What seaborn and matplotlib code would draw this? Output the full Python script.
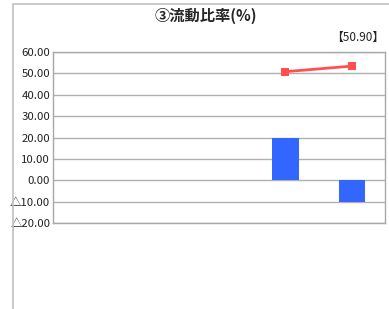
import matplotlib
matplotlib.use("Agg")
import matplotlib.pyplot as plt
import seaborn as sns
import numpy as np
import pandas as pd
from matplotlib.patches import Rectangle

sns.set_style("white")
plt.rcParams['font.family'] = ['Noto Sans CJK JP', 'DejaVu Sans']

categories = ["1", "2", "3", "4", "5"]
bar_values = [np.nan, np.nan, np.nan, 20.0, -10.0]
line_values = [np.nan, np.nan, np.nan, 50.8, 53.4]
yticks = [-20, -10, 0, 10, 20, 30, 40, 50, 60]
title = "③流動比率(%)"
note = "【50.90】"

def fmt(v):
    return ("△" if v < 0 else "") + f"{abs(v):.2f}"

df = pd.DataFrame({"cat": categories, "bar": bar_values, "line": line_values, "pos": range(len(categories))})

fig = plt.figure(figsize=(3.89, 3.09), dpi=100)
ax = fig.add_axes([53/389, 1-223/309, (385-53)/389, (223-52)/309])

sns.barplot(data=df, x="cat", y="bar", color="#3366FF", saturation=1, width=0.4, ax=ax,
            zorder=3, linewidth=0, edgecolor="none")
sns.lineplot(data=df, x="pos", y="line", color="#FF5050", linewidth=2, marker="s",
             markersize=6, markeredgewidth=0, ax=ax, zorder=4)

ax.set_xlim(-0.5, len(categories) - 0.5)
ax.set_ylim(-20, 60)
ax.set_yticks(yticks)
ax.set_yticklabels([fmt(v) for v in yticks], fontsize=8.2, color="#222222")
ax.set_xticks([])
ax.set_xlabel("")
ax.set_ylabel("")
ax.tick_params(axis="y", length=0, pad=2)
ax.grid(axis="y", color="#B0B0B0", linewidth=1, zorder=0)
for s in ax.spines.values():
    s.set_color("#A8A8A8")
    s.set_linewidth(1)

fig.text(206/389, 1-16/309, title, ha="center", va="center", fontsize=11, fontweight="bold")
fig.text(384/389, 1-37/309, note, ha="right", va="center", fontsize=8.5, color="#222222")

fig.patches.append(Rectangle((13/389, -0.1), 1.2, 1 - 4/309 + 0.1, transform=fig.transFigure,
                             fill=False, edgecolor="#C0C0C0", linewidth=1.2))

fig.savefig("out.png", dpi=100)
